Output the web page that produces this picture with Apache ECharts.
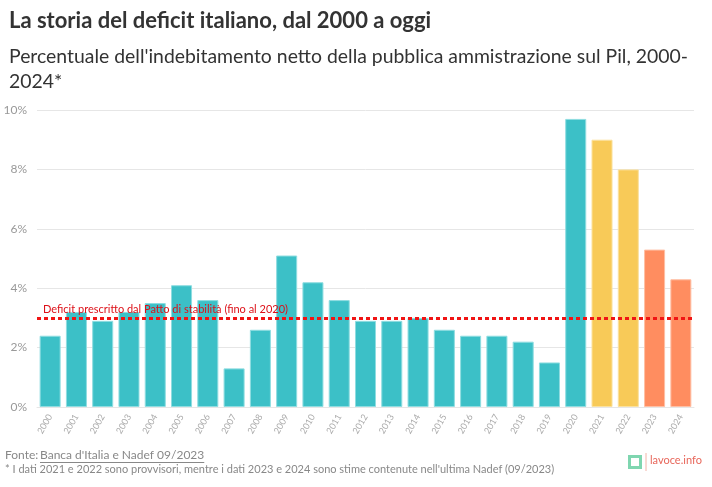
<!DOCTYPE html>
<html>
<head>
<meta charset="utf-8">
<script src="https://cdn.jsdelivr.net/npm/echarts@6/dist/echarts.min.js"></script>
<style>
  html, body { margin: 0; padding: 0; background: #fff; }
  #chart { width: 712px; height: 487px; }
</style>
</head>
<body>
<div id="chart"></div>
<script>
// anni e deficit (% del Pil)
var years = ['2000','2001','2002','2003','2004','2005','2006','2007','2008','2009','2010','2011','2012',
  '2013','2014','2015','2016','2017','2018','2019','2020','2021','2022','2023','2024'];
var deficit = [2.4, 3.2, 2.9, 3.2, 3.5, 4.1, 3.6, 1.3, 2.6, 5.1, 4.2, 3.6, 2.9,
  2.9, 3.0, 2.6, 2.4, 2.4, 2.2, 1.5, 9.7, 9.0, 8.0, 5.3, 4.3];
// tipo di dato: definitivo / provvisorio / stima
var tipo = ['d','d','d','d','d','d','d','d','d','d','d','d','d',
  'd','d','d','d','d','d','d','d','p','p','s','s'];
var soglia = 3;
var yTicks = [0, 2, 4, 6, 8, 10];

var colori = { d: '#3cc0c7', p: '#f8ca58', s: '#ff8d60' };
var bordi = { d: '#8fdde1', p: '#fbe19e', s: '#ffbfa4' };

var font = '"Source Sans Pro", Lato, "Noto Sans", sans-serif';

var chart = echarts.init(document.getElementById('chart'));

var barData = deficit.map(function (v, i) {
  return {
    value: v,
    itemStyle: { color: colori[tipo[i]], borderColor: bordi[tipo[i]], borderWidth: 1 }
  };
});

// larghezza del link della fonte, per la sottolineatura
var fonteLink = "Banca d'Italia e Nadef 09/2023";
var ctx = document.createElement('canvas').getContext('2d');
ctx.font = '12px ' + font;
var linkW = ctx.measureText(fonteLink).width;

chart.setOption({
  animation: false,
  textStyle: { fontFamily: font },
  title: [{
    text: 'La storia del deficit italiano, dal 2000 a oggi',
    left: 4, top: 5,
    textStyle: { fontSize: 22, fontWeight: 'bold', color: '#333', fontFamily: font }
  }, {
    text: "Percentuale dell'indebitamento netto della pubblica ammistrazione sul Pil, 2000-\n2024*",
    left: 4, top: 39,
    textStyle: { fontSize: 19.4, fontWeight: 'normal', color: '#333', lineHeight: 25, fontFamily: font }
  }],
  grid: { left: 37, right: 18, top: 110, bottom: 80 },
  xAxis: {
    type: 'category',
    data: years,
    axisLine: { lineStyle: { color: '#e6e6e6' } },
    axisTick: { alignWithLabel: true, length: 4, lineStyle: { color: '#ccc' } },
    axisLabel: { rotate: 60, fontSize: 9, color: '#aaa', margin: 8 }
  },
  yAxis: {
    type: 'value',
    min: yTicks[0], max: yTicks[yTicks.length - 1], interval: 2,
    axisLine: { show: false },
    axisTick: { show: false },
    splitLine: { lineStyle: { color: '#e6e6e6' } },
    axisLabel: { formatter: '{value}%', fontSize: 12, color: '#999', margin: 10 }
  },
  series: [{
    type: 'bar',
    data: barData,
    barCategoryGap: '20%',
    markLine: {
      silent: true,
      symbol: 'none',
      lineStyle: { color: '#f01414', type: [4, 3], width: 3 },
      label: {
        position: 'insideStartTop',
        formatter: 'Deficit prescritto dal Patto di stabilità (fino al 2020)',
        color: '#dd1018', fontSize: 11, distance: [6, 3]
      },
      data: [{ yAxis: soglia }]
    }
  }],
  graphic: [
    { type: 'text', left: 5, top: 449,
      style: { text: 'Fonte:', fontSize: 12, fill: '#888', fontFamily: font } },
    { type: 'text', left: 40, top: 449,
      style: { text: fonteLink, fontSize: 12, fill: '#888', fontFamily: font } },
    { type: 'line', shape: { x1: 40, y1: 462.5, x2: 40 + linkW, y2: 462.5 },
      style: { stroke: '#888', lineWidth: 1 } },
    { type: 'text', left: 5, top: 464,
      style: { text: '* I dati 2021 e 2022 sono provvisori, mentre i dati 2023 e 2024 sono stime contenute nell\'ultima Nadef (09/2023)',
        fontSize: 11, fill: '#888', fontFamily: font } },
    { type: 'rect', shape: { x: 628, y: 455, width: 14, height: 14 },
      style: { fill: '#7fd6b0' } },
    { type: 'rect', shape: { x: 631, y: 458, width: 8, height: 8 },
      style: { fill: '#fff' } },
    { type: 'line', shape: { x1: 646, y1: 453, x2: 646, y2: 471 },
      style: { stroke: '#f2b4a8', lineWidth: 1 } },
    { type: 'text', left: 650, top: 455,
      style: { text: 'lavoce.info', fontSize: 11, fill: '#e8665a', fontFamily: font } }
  ]
});
</script>
</body>
</html>
